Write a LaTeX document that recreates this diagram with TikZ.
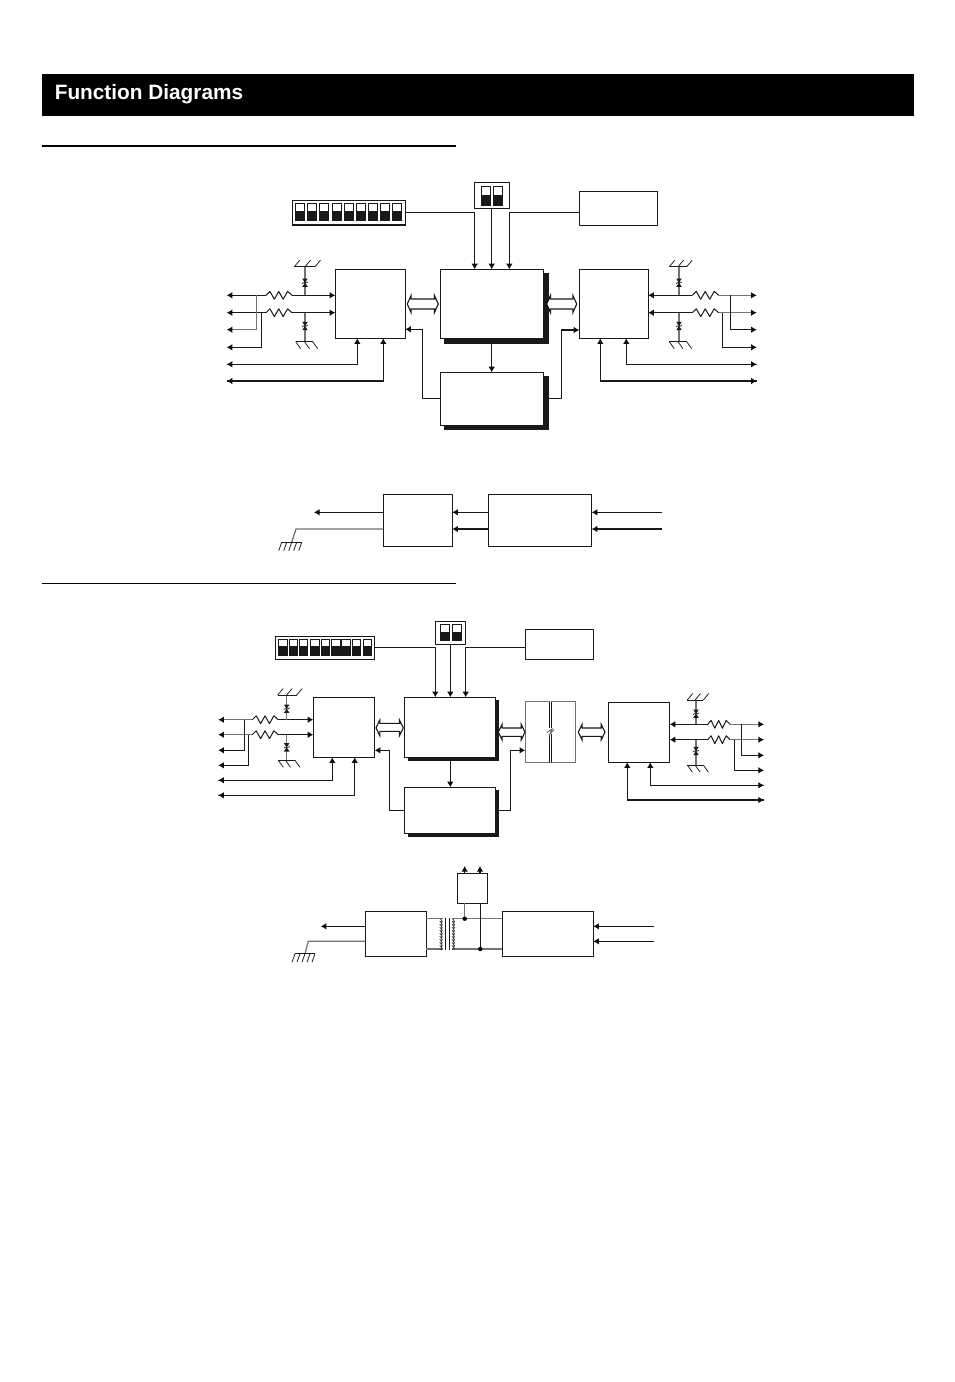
\documentclass[tikz,border=0pt]{standalone}
\usepackage{fontspec}
\setmainfont{Liberation Sans}
\usetikzlibrary{arrows.meta,calc}
\tikzset{
  sig/.style={draw=black!90,line width=1.1pt,line join=miter},
  gl/.style={draw=black!55,line width=1.25pt},
  tip/.style={-{Latex[length=5.6pt,width=6.6pt,black!95]}},
  backtip/.style={{Latex[length=5.6pt,width=6.6pt,black!95]}-},
  blockbox/.style={draw=black!90,fill=white,line width=1.1pt,inner sep=0pt,outer sep=0pt},
  greybox/.style={draw=black!55,fill=white,line width=1.25pt,inner sep=0pt,outer sep=0pt},
  shadowfill/.style={fill=black!90,draw=none},
  swbox/.style={draw=black!90,fill=white,line width=0.6pt},
  swdark/.style={fill=black!90,draw=none},
  hollow/.style={draw=black!90,fill=white,line width=1.1pt,line join=miter},
  thinpart/.style={draw=black!90,line width=1pt,line join=round},
}
\newcommand{\blk}[6][blockbox]{%
  \pgfmathsetmacro{\bw}{#5-#3}\pgfmathsetmacro{\bh}{#6-#4}%
  \pgfmathsetmacro{\bx}{(#5+#3)/2}\pgfmathsetmacro{\by}{(#6+#4)/2}%
  \node[#1,minimum width=\bw pt,minimum height=\bh pt] (#2) at (\bx,\by) {};}
\newcommand{\sw}[5]{% x1 x2 y1 ysplit y2
  \draw[swbox] (#1,#3) rectangle (#2,#5);
  \fill[swdark] (#1,#4) rectangle (#2,#5);}
\newcommand{\res}[3]{% x1 x2 y
  \pgfmathsetmacro{\rd}{#2-#1}%
  \draw[thinpart] (#1,#3) -- ++(.15*\rd,-3.9) -- ++(.17*\rd,7.8) -- ++(.17*\rd,-7.8) -- ++(.17*\rd,7.8) -- ++(.17*\rd,-7.8) -- ++(.17*\rd,3.9);}
\newcommand{\tvs}[2]{% x y
  \fill[black!90] (#1-2.8,#2-4.2) -- (#1+2.8,#2-4.2) -- (#1,#2) -- cycle;
  \fill[black!90] (#1-2.8,#2+4.2) -- (#1+2.8,#2+4.2) -- (#1,#2) -- cycle;
  \draw[black!90,line width=.7pt] (#1-3,#2+.8) -- (#1-1.5,#2) -- (#1+1.5,#2) -- (#1+3,#2-.8);}
\newcommand{\gndup}[5]{% xline ybar xleft xmid xright : bar with hatching up-right
  \draw[thinpart] (#3,#2) -- (#5,#2);
  \draw[thinpart,line width=.75pt] (#3,#2) -- ++(5.5,-6.5) (#4,#2) -- ++(5.5,-6.5) (#5,#2) -- ++(5.5,-6.5);}
\newcommand{\gnddown}[5]{% bar with hatching down-right
  \draw[thinpart] (#3,#2) -- (#5,#2);
  \draw[thinpart,line width=.75pt] (#3,#2) -- ++(5,7) (#4,#2) -- ++(5,7) (#5,#2) -- ++(5,7);}
\newcommand{\gndleft}[3]{% xbar-left xbar-right ybar : slashes down-left
  \draw[thinpart] (#1,#3) -- (#2,#3);
  \foreach \q in {0,.25,.5,.75,1}{\draw[thinpart,line width=.75pt] ($(#1,#3)+\q*(#2-#1,0)$) -- ++(-3,8.5);}}
\newcommand{\dbl}[6]{% x1 x2 ytop yrail1 yrail2 ybot
  \pgfmathsetmacro{\ym}{(#3+#6)/2}%
  \draw[hollow] (#1,\ym) -- (#1+3.8,#3) -- (#1+3.8,#4) -- (#2-3.8,#4) -- (#2-3.8,#3) -- (#2,\ym) -- (#2-3.8,#6) -- (#2-3.8,#5) -- (#1+3.8,#5) -- (#1+3.8,#6) -- cycle;}
\begin{document}
\begin{tikzpicture}[x=1pt,y=-1pt]
\useasboundingbox (0,0) rectangle (954,1382);
\fill[white] (0,0) rectangle (954,1382);
% header
\fill[black] (42,74) rectangle (914,116);
\node[text=white,font=\fontsize{20.8}{24}\selectfont\bfseries,anchor=base west,inner sep=0pt] (title) at (54.6,99.3) {Function Diagrams};
\fill[black] (42,144.6) rectangle (456,146.8);
\fill[black] (42,582.8) rectangle (456,583.9);

% ---------- diagram 1 ----------
\fill[shadowfill] (444,272.7) rectangle (549,343.7);
\fill[shadowfill] (444,376) rectangle (549,430);
\blk{mainA}{440.3}{269.3}{543.3}{338.3}
\blk{lowA}{440.3}{372.3}{543.3}{425.3}
\blk{leftA}{335.3}{269.3}{405.3}{338.3}
\blk{rightA}{579.3}{269.3}{648.3}{338.3}
\blk{dipA}{292.7}{200.7}{405.3}{225}
\blk{dupA}{474.7}{182.7}{509.3}{208.3}
\blk{romA}{579.3}{191.3}{657.3}{225.3}
\foreach \a/\b in {295.3/304.7,307.3/316,319.3/328.7,332.7/341.3,344.3/353,356.3/365.7,368.3/377.7,380.3/389,392.3/401.7}{\sw{\a}{\b}{203.3}{211}{220.7}}
\foreach \a/\b in {481.3/490.7,493.3/502.7}{\sw{\a}{\b}{186.3}{195.3}{205}}
\draw[sig,tip] (dipA.east |- 0,212.3) -| (mainA.north -| 474.7,0);
\draw[sig,tip] (dupA.south -| 491.7,0) -- (mainA.north -| 491.7,0);
\draw[sig,tip] (romA.west |- 0,212.3) -| (mainA.north -| 509.3,0);
\draw[sig,tip] (491.7,343.7) -- (lowA.north -| 491.7,0);
\draw[sig,tip] (lowA.west |- 0,398.7) -| (422.3,329.3) -- (leftA.east |- 0,329.3);
\draw[sig,tip] (549,398.3) -| (561.3,330) -- (rightA.west |- 0,330);
\dbl{407.3}{438.3}{295.5}{299}{309}{312.5}
\dbl{546.7}{576.7}{295.5}{299}{309}{312.5}
% left I/O
\coordinate (la1) at (226.7,295.3); \coordinate (la2) at (226.7,312.7);
\coordinate (la3) at (226.7,329.7); \coordinate (la4) at (226.7,347.3);
\coordinate (la5) at (226.7,364.3); \coordinate (la6) at (226.7,381);
\draw[sig,tip] (266,295.3) -- (la1);
\draw[sig,tip] (266,312.7) -- (la2);
\res{266}{292}{295.3}\res{266}{292}{312.7}
\draw[sig,tip] (292,295.3) -- (leftA.west |- 0,295.3);
\draw[sig,tip] (292,312.7) -- (leftA.west |- 0,312.7);
\draw[gl,tip] (256.7,295.3) |- (la3);
\draw[sig,tip] (261.3,312.7) |- (la4);
\draw[sig,tip] (la5) -| (leftA.south -| 357.3,0) ;
\draw[sig,tip] (la6) -| (leftA.south -| 383.3,0);
\draw[sig,backtip] (la5) -- ++(5,0);
\draw[sig,backtip] (la6) -- ++(5,0);
\draw[gl] (305,266.7) -- (305,295.3) (305,312.7) -- (305,341.7);
\tvs{305}{282.7}\tvs{305}{326}
\gndup{305}{266.7}{294.3}{305}{315}{}
\gnddown{305}{341.7}{295.7}{304.5}{312.7}{}
% right I/O
\coordinate (ra1) at (756.7,295.3); \coordinate (ra2) at (756.7,312.7);
\coordinate (ra3) at (756.7,329.7); \coordinate (ra4) at (756.7,347.3);
\coordinate (ra5) at (756.7,364.3); \coordinate (ra6) at (756.7,381);
\draw[sig,tip] (692.3,295.3) -- (rightA.east |- 0,295.3);
\draw[sig,tip] (692.3,312.7) -- (rightA.east |- 0,312.7);
\res{692.3}{718.7}{295.3}\res{692.3}{718.7}{312.7}
\draw[gl,tip] (718.7,295.3) -- (ra1);
\draw[gl,tip] (718.7,312.7) -- (ra2);
\draw[sig,tip] (730.3,295.3) |- (ra3);
\draw[sig,tip] (722.3,312.7) |- (ra4);
\draw[sig,tip] (ra5) -| (rightA.south -| 626.3,0);
\draw[sig,tip] (ra6) -| (rightA.south -| 600.3,0);
\draw[sig,backtip] (ra5) -- ++(-5,0);
\draw[sig,backtip] (ra6) -- ++(-5,0);
\draw[gl] (679,266.7) -- (679,295.3) (679,312.7) -- (679,341.7);
\tvs{679}{282.7}\tvs{679}{326}
\gndup{679}{266.7}{669.3}{678}{686.7}{}
\gnddown{679}{341.7}{669.3}{678}{686.7}{}

% ---------- power part 1 ----------
\blk{xcvA}{383.3}{494.3}{452.3}{546.3}
\blk{isoA}{488.3}{494.3}{591.7}{546.3}
\coordinate (pa1) at (314,512.3); \coordinate (pg1) at (296,529);
\coordinate (pi1) at (661.7,512.3); \coordinate (pi2) at (661.7,529);
\draw[sig,tip] (xcvA.west |- 0,512.3) -- (pa1);
\draw[gl] (xcvA.west |- 0,529) -- (pg1) -- (291.7,542.3);
\gndleft{281.7}{301.7}{542.3}
\draw[sig,tip] (isoA.west |- 0,512.3) -- (xcvA.east |- 0,512.3);
\draw[sig,tip] (isoA.west |- 0,529) -- (xcvA.east |- 0,529);
\draw[sig,tip] (pi1) -- (isoA.east |- 0,512.3);
\draw[sig,tip] (pi2) -- (isoA.east |- 0,529);

% ---------- diagram 2 ----------
\fill[shadowfill] (408,700) rectangle (499,761);
\fill[shadowfill] (408,790) rectangle (499,836.7);
\blk{mainB}{404.3}{697.3}{495.7}{757.3}
\blk{lowB}{404.3}{787.3}{495.7}{833.3}
\blk{leftB}{313.3}{697.3}{374.7}{757.3}
\blk{rightB}{608.3}{702.3}{669.7}{762.3}
\blk{dipB}{275.3}{636.3}{374.7}{659.3}
\blk{dupB}{435.3}{621.3}{465.7}{644.3}
\blk{romB}{525.3}{629.3}{593.3}{659.3}
\foreach \a/\b in {278.3/287,289.3/297,299.3/307,310.3/319,321.3/329,331.3/340,341.3/350,352.3/360,363.3/371}{\sw{\a}{\b}{639}{646}{655}}
\foreach \a/\b in {440.3/449,452.3/461}{\sw{\a}{\b}{624.3}{632.3}{640.7}}
\draw[sig,tip] (dipB.east |- 0,647.3) -| (mainB.north -| 435.3,0);
\draw[sig,tip] (dupB.south -| 450.3,0) -- (mainB.north -| 450.3,0);
\draw[sig,tip] (romB.west |- 0,647.3) -| (mainB.north -| 465.7,0);
\draw[sig,tip] (450.3,761) -- (lowB.north -| 450.3,0);
\draw[sig,tip] (lowB.west |- 0,810.7) -| (389.7,750.3) -- (leftB.east |- 0,750.3);
\blk[greybox]{isoL}{525.3}{701.7}{549.3}{762.7}
\blk[greybox]{isoR}{551.7}{701.7}{575.3}{762.7}
\draw[sig,tip] (499,810.3) -| (510.7,750.3) -- (isoL.west |- 0,750.3);
\draw[white,line width=2pt] (549.3,727.8) -- (549.3,734) (551.7,727.8) -- (551.7,734);
\draw[sig] (549.3,701.7) -- (549.3,728) (551.7,701.7) -- (551.7,728)
           (549.3,733.5) -- (549.3,762.7) (551.7,733.5) -- (551.7,762.7);
\draw[black!60,line width=.9pt] (547,732.5) -- (552,729) -- (550,734) -- (554,729.5);
\dbl{376}{403.3}{720}{723.3}{731.3}{735.7}
\dbl{498.3}{525}{724.3}{728}{736.3}{740}
\dbl{578.3}{605}{724.3}{728}{736.3}{740}
% left I/O
\coordinate (lb1) at (218.3,719.7); \coordinate (lb2) at (218.3,734.7);
\coordinate (lb3) at (218.3,750.3); \coordinate (lb4) at (218.3,765.3);
\coordinate (lb5) at (218.3,780.3); \coordinate (lb6) at (218.3,795.3);
\draw[gl,tip] (252.3,719.7) -- (lb1);
\draw[gl,tip] (252.3,734.7) -- (lb2);
\res{252.3}{278.3}{719.7}\res{252.3}{278.3}{734.7}
\draw[sig,tip] (278.3,719.7) -- (leftB.west |- 0,719.7);
\draw[sig,tip] (278.3,734.7) -- (leftB.west |- 0,734.7);
\draw[sig,tip] (244.7,719.7) |- (lb3);
\draw[sig,tip] (248.7,734.7) |- (lb4);
\draw[sig,tip] (lb5) -| (leftB.south -| 332.3,0);
\draw[sig,tip] (lb6) -| (leftB.south -| 354.7,0);
\draw[sig,backtip] (lb5) -- ++(5,0);
\draw[sig,backtip] (lb6) -- ++(5,0);
\draw[gl] (286.7,695) -- (286.7,719.7) (286.7,734.7) -- (286.7,760.3);
\tvs{286.7}{708.7}\tvs{286.7}{747.3}
\gndup{286.7}{695}{277.7}{286.7}{296.7}{}
\gnddown{286.7}{760.3}{278.3}{285.5}{295}{}
% right I/O
\coordinate (rb1) at (764,724.3); \coordinate (rb2) at (764,739.7);
\coordinate (rb3) at (764,755.3); \coordinate (rb4) at (764,770.3);
\coordinate (rb5) at (764,785.3); \coordinate (rb6) at (764,800);
\draw[sig,tip] (707.7,724.3) -- (rightB.east |- 0,724.3);
\draw[sig,tip] (707.7,739.7) -- (rightB.east |- 0,739.7);
\res{707.7}{730}{724.3}\res{707.7}{730}{739.7}
\draw[gl,tip] (730,724.3) -- (rb1);
\draw[gl,tip] (730,739.7) -- (rb2);
\draw[sig,tip] (741.3,724.3) |- (rb3);
\draw[sig,tip] (734.3,739.7) |- (rb4);
\draw[sig,tip] (rb5) -| (rightB.south -| 650.3,0);
\draw[sig,tip] (rb6) -| (rightB.south -| 627.3,0);
\draw[sig,backtip] (rb5) -- ++(-5,0);
\draw[sig,backtip] (rb6) -- ++(-5,0);
\draw[gl] (696,700) -- (696,724.3) (696,739.7) -- (696,765);
\tvs{696}{713.7}\tvs{696}{751}
\gndup{696}{700}{687.3}{695}{703.3}{}
\gnddown{696}{765}{687.3}{695}{703.3}{}

% ---------- power part 2 ----------
\blk{xcvB}{365.3}{911.3}{426.3}{956.3}
\blk{isoB}{502.3}{911.3}{593.3}{956.3}
\blk{dcB}{457.3}{873.3}{487.3}{903.3}
\coordinate (pb1) at (320.7,926.3); \coordinate (pg2) at (308.3,941.3);
\coordinate (pj1) at (654,926.3); \coordinate (pj2) at (654,941.3);
\coordinate (ua) at (464.7,866); \coordinate (ub) at (480,866);
\draw[sig,tip] (xcvB.west |- 0,926.3) -- (pb1);
\draw[gl] (xcvB.west |- 0,941.3) -- (pg2) -- (305,953.7);
\gndleft{295}{315}{953.7}
\draw[sig,tip] (pj1) -- (isoB.east |- 0,926.3);
\draw[sig,tip] (pj2) -- (isoB.east |- 0,941.3);
\draw[sig,tip] (dcB.north -| ua) -- (ua);
\draw[sig,tip] (dcB.north -| ub) -- (ub);
\draw[gl] (xcvB.east |- 0,918.7) -- (442.7,918.7) (xcvB.east |- 0,949) -- (442.7,949);
\draw[gl] (452.3,918.7) -- (isoB.west |- 0,918.7) (452.3,949) -- (isoB.west |- 0,949);
\draw[gl] (dcB.south -| 464.7,0) -- (464.7,918.7);
\draw[sig] (dcB.south -| 480.3,0) -- (480.3,949);
\fill[black] (464.7,918.7) circle (2.2) (480.3,949) circle (2.2);
% transformer
\draw[sig,line width=.9pt] (445.3,918) -- (445.3,949.5) (449.3,918) -- (449.3,949.5);
\foreach \xc in {440.4,452.6}{
  \draw[black!80,line width=.8pt] (\xc,918.7) \foreach \k in {0,...,9}{ .. controls ++(2.4,0.8) and ++(2.4,2.2) .. ++(0,3.03)};
}
\end{tikzpicture}
\end{document}
